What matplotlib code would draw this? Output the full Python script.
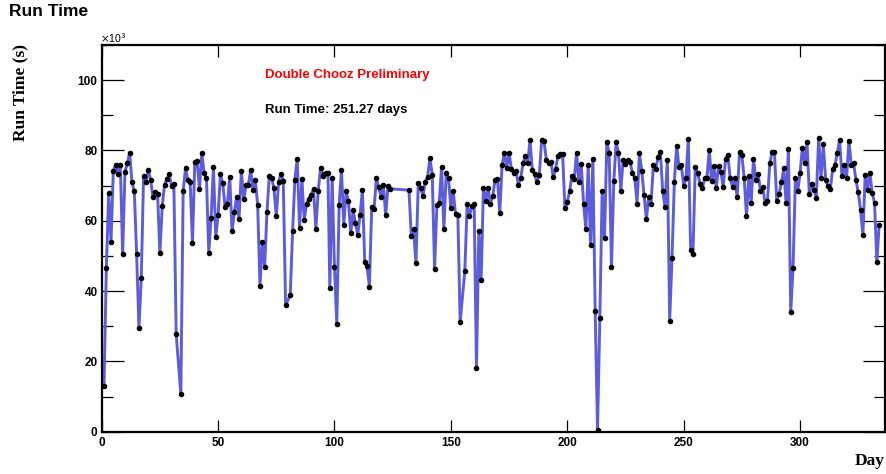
"""Daily run time of the Double Chooz detector (ROOT-style graph)."""

import matplotlib
matplotlib.use("Agg")
import matplotlib.pyplot as plt
from matplotlib.ticker import MultipleLocator

# Data: day number and run time in units of 10^3 s
DAYS = [
    1, 2, 3, 4, 5, 6, 7, 8, 9, 10,
    11, 12, 13, 14, 15, 16, 17, 18, 19, 20,
    21, 22, 23, 24, 25, 26, 27, 28, 29, 30,
    31, 32, 34, 35, 36, 37, 38, 39,
    40, 41, 42, 43, 44, 45, 46, 47, 48, 49,
    50, 51, 52, 53, 54, 55, 56, 57, 58, 59,
    60, 61, 62, 63, 64, 65, 66, 67, 68, 69,
    70, 71, 72, 73, 74, 75, 76, 77, 78, 79,
    81, 82, 83, 84, 85, 86, 87, 88, 89,
    90, 91, 92, 93, 94, 95, 95.7, 96.5, 97.2, 98, 99,
    100, 101, 102, 103, 104, 105, 106, 107, 108, 109,
    110, 111, 112, 113, 114, 115, 116, 117, 118, 119,
    120, 121, 122, 123, 124,
    132, 133, 134, 135, 136, 137, 138, 139,
    140, 141, 142, 143, 144, 145, 146, 147, 148, 149,
    150, 151, 152, 153, 154, 156, 157, 158, 159,
    160, 161, 162, 163, 164, 165, 166, 167, 168, 169,
    170, 171, 172, 173, 174, 175, 176, 177, 178, 179,
    180, 181, 182, 183, 184, 185, 186, 187, 188, 189,
    190, 191, 192, 193, 194, 195, 196, 197, 198, 199,
    200, 201, 202, 203, 204, 205, 206, 207, 208, 209,
    210, 211, 212, 213, 214, 215, 216, 217, 218, 219,
    220, 221, 222, 223, 224, 225, 226, 227, 228, 229,
    230, 231, 232, 233, 234, 235, 236, 237, 238, 239,
    240, 241, 242, 243, 244, 245, 246, 247, 248, 249,
    250, 251, 252, 253, 254, 255, 256, 257, 258, 259,
    260, 261, 262, 263, 264, 265, 266, 267, 268, 269,
    270, 271, 272, 273, 274, 275, 276, 277, 278, 279,
    280, 281, 282, 283, 284, 285, 286, 287, 288, 289,
    290, 291, 292, 293, 294, 295, 296, 297, 298, 299,
    300, 301, 302, 303, 304, 305, 306, 307, 308, 309,
    310, 311, 312, 313, 314, 315, 316, 317, 318, 319,
    320, 321, 322, 323, 324, 325, 326, 327, 328, 329,
    330, 331, 332, 333, 334,
]

RUN_TIME_KS = [
    13.1, 46.7, 67.9, 54.1, 74.3, 76.0, 73.4, 75.8, 50.6, 73.9,
    76.3, 79.4, 71.0, 68.4, 50.6, 29.6, 43.8, 72.8, 70.9, 74.5,
    71.7, 66.8, 68.2, 67.7, 50.7, 64.2, 70.3, 71.8, 73.2, 69.8,
    70.5, 27.7, 10.8, 68.6, 74.9, 71.5, 70.9, 53.7,
    76.7, 76.9, 68.9, 79.4, 73.5, 72.1, 50.9, 60.8, 75.2, 55.4,
    61.6, 73.2, 70.7, 63.9, 64.9, 72.5, 57.0, 62.5, 66.9, 60.5,
    74.2, 66.1, 70.1, 70.3, 74.5, 68.7, 71.7, 64.5, 41.5, 53.9,
    46.9, 62.5, 72.8, 72.1, 69.2, 61.3, 71.0, 73.4, 71.4, 36.0,
    38.8, 57.1, 71.7, 77.7, 57.9, 71.9, 60.2, 64.8, 66.3,
    67.4, 69.1, 57.6, 68.4, 74.9, 72.8, 73.4, 73.6, 73.6, 40.8, 72.1,
    46.8, 30.5, 64.6, 74.4, 58.7, 68.4, 65.5, 56.4, 63.0, 59.3,
    56.0, 61.7, 68.8, 48.3, 47.0, 41.3, 63.9, 63.3, 72.1, 69.5,
    66.9, 70.3, 61.6, 69.9, 69.1,
    68.7, 55.7, 57.6, 47.9, 70.8, 69.3, 67.1, 71.1,
    72.5, 77.9, 73.1, 46.2, 64.5, 65.0, 75.4, 57.6, 73.6, 72.1,
    63.5, 68.4, 61.8, 61.7, 31.1, 45.8, 64.8, 61.3, 64.2,
    64.9, 18.0, 57.1, 43.2, 69.4, 65.6, 69.2, 64.9, 67.1, 71.7,
    72.0, 62.1, 75.8, 79.4, 75.1, 79.4, 74.7, 73.6, 74.1, 70.3,
    72.2, 76.3, 78.4, 76.3, 83.0, 74.4, 73.2, 70.9, 73.0, 83.0,
    82.6, 77.4, 76.5, 76.6, 72.4, 74.8, 78.4, 79.1, 79.0, 63.6,
    65.2, 68.4, 72.6, 71.9, 79.4, 70.9, 76.1, 64.9, 57.6, 75.8,
    53.0, 77.7, 34.2, 0.6, 32.3, 68.5, 55.0, 82.4, 79.4, 46.9,
    71.3, 82.3, 79.4, 68.5, 77.2, 76.2, 77.2, 76.6, 73.6, 72.2,
    64.9, 79.2, 74.1, 67.3, 60.5, 66.9, 64.9, 76.0, 74.7, 78.0,
    79.6, 68.4, 63.9, 77.4, 31.6, 49.5, 70.9, 81.4, 75.2, 75.9,
    69.9, 72.1, 83.3, 51.8, 50.5, 75.4, 73.5, 70.6, 69.2, 72.1,
    72.1, 80.2, 71.2, 75.6, 69.2, 75.6, 73.9, 69.5, 77.7, 78.6,
    72.1, 69.7, 72.1, 66.7, 79.6, 78.8, 72.1, 61.3, 72.8, 65.0,
    77.6, 71.7, 73.2, 68.6, 69.5, 65.0, 65.5, 76.3, 79.5, 79.5,
    65.7, 67.7, 70.9, 74.9, 65.1, 80.4, 34.0, 46.6, 72.1, 68.4,
    73.5, 80.8, 76.4, 82.3, 67.6, 70.6, 68.8, 66.6, 83.6, 72.3,
    81.7, 71.7, 69.8, 69.0, 74.6, 75.8, 79.3, 83.0, 72.7, 75.8,
    72.1, 82.8, 75.9, 76.4, 71.7, 68.1, 63.1, 56.0, 73.1, 68.8,
    73.6, 67.9, 65.1, 48.2, 58.9,
]

X_TICKS = [0, 50, 100, 150, 200, 250, 300]
Y_TICKS = [0, 20, 40, 60, 80, 100]

TITLE = "Run Time"
LABEL_TEXT = "Double Chooz Preliminary"
TOTAL_TEXT = "Run Time: 251.27 days"

# Figure geometry (pixels of the 886x474 output)
W, H = 886, 474
LINE_COLOR = "#5c5cdc"
SANS = "Liberation Sans"
SERIF = "Liberation Serif"


def px(x, y):
    """Pixel position -> figure fraction."""
    return x / W, 1 - y / H


def main():
    assert len(DAYS) == len(RUN_TIME_KS)

    fig = plt.figure(figsize=(W / 100, H / 100), dpi=100)
    fig.patch.set_facecolor("white")
    left, bottom = 101.7 / W, 1 - 431.7 / H
    ax = fig.add_axes([left, bottom, 885 / W - left, (431.7 - 45) / H])

    ax.plot(DAYS, RUN_TIME_KS, color=LINE_COLOR, lw=2.1, zorder=2)
    ax.plot(DAYS, RUN_TIME_KS, ls="none", marker="o", ms=3.0,
            color="black", zorder=3)

    ax.set_xlim(0, 336.5)
    ax.set_ylim(0, 110)
    ax.set_xticks(X_TICKS)
    ax.set_yticks(Y_TICKS)
    ax.yaxis.set_minor_locator(MultipleLocator(10))

    for sp in ax.spines.values():
        sp.set_linewidth(1.6)

    ax.tick_params(axis="both", which="both", direction="in",
                   top=True, right=True, width=0.9, color="black")
    ax.tick_params(axis="x", which="major", length=8.5, pad=4)
    ax.tick_params(axis="y", which="major", length=16, pad=3)
    ax.tick_params(axis="y", which="minor", length=8)

    for lab in ax.get_xticklabels() + ax.get_yticklabels():
        lab.set_fontfamily(SANS)
        lab.set_fontweight("bold")
        lab.set_fontsize(8.5)

    # Texts
    fig.text(*px(9, 12), TITLE, fontsize=12.5, fontweight="bold",
             family=SANS, ha="left", va="center")
    fig.text(*px(100, 38), r"$\times$10$^{3}$", fontsize=7.5,
             family=SANS, ha="left", va="center")
    fig.text(*px(20, 44), "Run Time (s)", fontsize=12.5, fontweight="bold",
             family=SERIF, rotation=90, ha="center", va="top")
    fig.text(*px(885, 461), "Day", fontsize=12.5, fontweight="bold",
             family=SERIF, ha="right", va="center")
    fig.text(*px(265, 75), LABEL_TEXT, fontsize=9.5, fontweight="bold",
             family=SANS, color="#ff0000", ha="left", va="center")
    fig.text(*px(265, 110), TOTAL_TEXT, fontsize=9.5, fontweight="bold",
             family=SANS, color="black", ha="left", va="center")

    fig.savefig("out.png", dpi=100, facecolor="white")
    plt.close(fig)


if __name__ == "__main__":
    main()
